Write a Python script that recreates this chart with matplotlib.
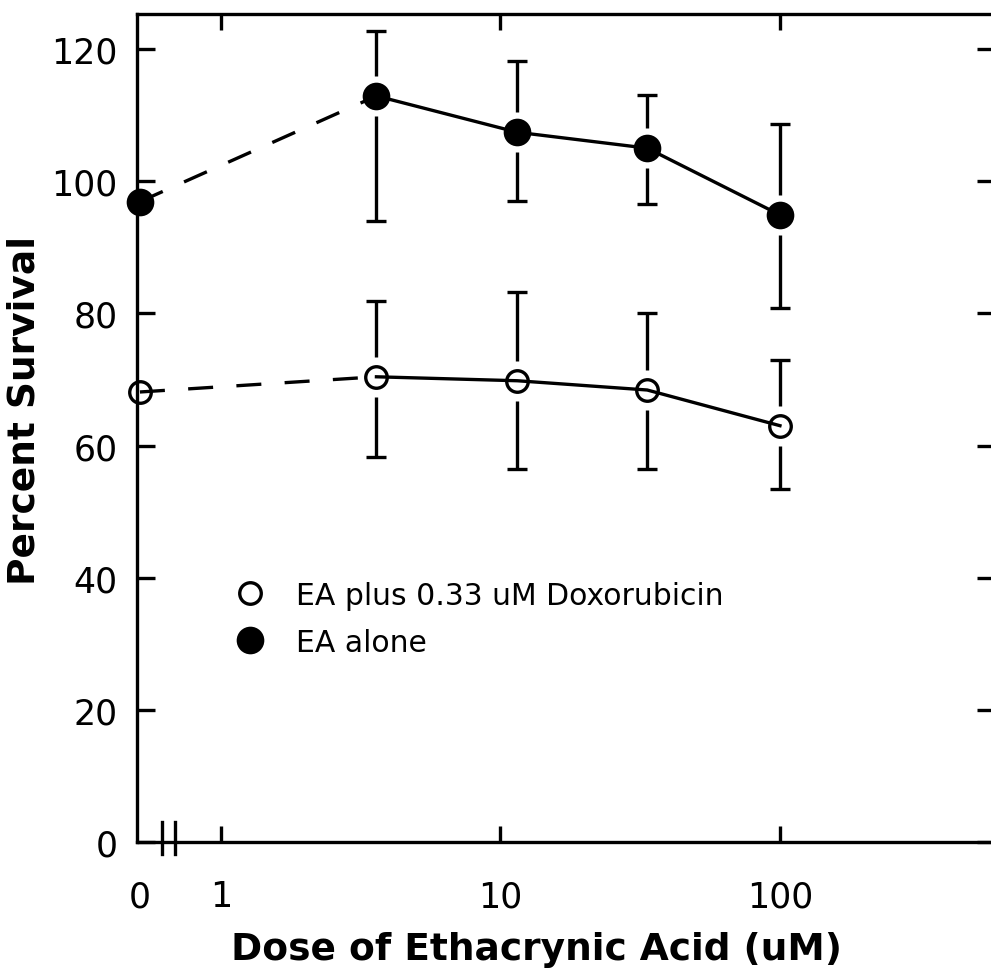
import numpy as np
import matplotlib
matplotlib.use("Agg")
import matplotlib.pyplot as plt
from matplotlib.lines import Line2D

# doses (uM); the untreated control is drawn at zero_x on the log axis
doses = np.array([3.6, 11.5, 33.5, 100.0])
zero_x = 0.513

# EA alone (filled circles)
ea_ctrl = 96.9
ea_mean = np.array([112.9, 107.4, 105.0, 94.9])
ea_hi = np.array([9.8, 10.8, 8.0, 13.8])
ea_lo = np.array([18.9, 10.4, 8.5, 14.1])

# EA plus 0.33 uM doxorubicin (open circles)
dox_ctrl = 68.1
dox_mean = np.array([70.4, 69.8, 68.4, 63.0])
dox_hi = np.array([11.5, 13.4, 11.7, 9.9])
dox_lo = np.array([12.1, 13.4, 12.0, 9.6])

xticks = [1, 10, 100]
xticklabels = ["1", "10", "100"]
yticks = [0, 20, 40, 60, 80, 100, 120]

lw = 2.4
gap = 3.0   # blank space between marker and error bar, in % units
ms_open, ms_fill = 15.5, 17.5

fig = plt.figure(figsize=(9.91, 9.70), dpi=100)
ax = fig.add_axes([137 / 991, (970 - 843) / 970, (995 - 137) / 991, (843 - 15) / 970])
ax.set_xscale("log")
ax.set_xlim(0.5008, 588)
ax.set_ylim(0, 125.3)


def draw_series(ctrl, mean, hi, lo, filled):
    face = "black" if filled else "none"
    ms = ms_fill if filled else ms_open
    # dashed link from the control to the first dose
    ax.plot([zero_x, doses[0]], [ctrl, mean[0]], color="black", lw=lw,
            dashes=(7.5, 7.0), zorder=2)
    ax.plot(doses, mean, color="black", lw=lw, zorder=2)
    # error bars with a gap around each marker
    ax.vlines(doses, mean + gap, mean + hi, color="black", lw=lw, zorder=2)
    ax.vlines(doses, mean - lo, mean - gap, color="black", lw=lw, zorder=2)
    ax.plot(doses, mean + hi, ls="none", marker="_", ms=15, mew=lw, color="black")
    ax.plot(doses, mean - lo, ls="none", marker="_", ms=15, mew=lw, color="black")
    ax.plot(np.r_[zero_x, doses], np.r_[ctrl, mean], ls="none", marker="o",
            ms=ms, mfc=face, mec="black", mew=lw, zorder=3, clip_on=False)


draw_series(ea_ctrl, ea_mean, ea_hi, ea_lo, True)
draw_series(dox_ctrl, dox_mean, dox_hi, dox_lo, False)

# axis break marks near the origin
for bx in (0.615, 0.684):
    ax.plot([bx, bx], [-1.8, 3.0], color="black", lw=lw, clip_on=False)

for s in ax.spines.values():
    s.set_linewidth(lw)

ax.set_xticks([zero_x] + xticks)
ax.set_xticklabels(["0"] + xticklabels)
ax.xaxis.set_minor_locator(matplotlib.ticker.NullLocator())
ax.set_yticks(yticks)
ax.tick_params(axis="both", direction="in", width=lw, labelsize=25)
ax.tick_params(axis="x", length=11.5, pad=27, top=True)
ax.tick_params(axis="y", length=13, pad=14, right=True)
ax.xaxis.get_major_ticks()[0].tick1line.set_visible(False)
ax.xaxis.get_major_ticks()[0].tick2line.set_visible(False)

ax.set_xlabel("Dose of Ethacrynic Acid (uM)", fontsize=27, fontweight="bold")
ax.set_ylabel("Percent Survival", fontsize=27, fontweight="bold")
ax.xaxis.set_label_coords(0.466, -0.108)
ax.yaxis.set_label_coords(-0.11, 0.522)

handles = [
    Line2D([], [], ls="none", marker="o", ms=ms_open, mfc="none", mec="black", mew=lw),
    Line2D([], [], ls="none", marker="o", ms=ms_fill, mfc="black", mec="black", mew=lw),
]
ax.legend(handles, ["EA plus 0.33 uM Doxorubicin", "EA alone"], loc="upper left",
          bbox_to_anchor=(0.083, 0.33), frameon=False, fontsize=21.5,
          handletextpad=0.55, labelspacing=0.6, borderaxespad=0)

fig.savefig("out.png", dpi=100)
